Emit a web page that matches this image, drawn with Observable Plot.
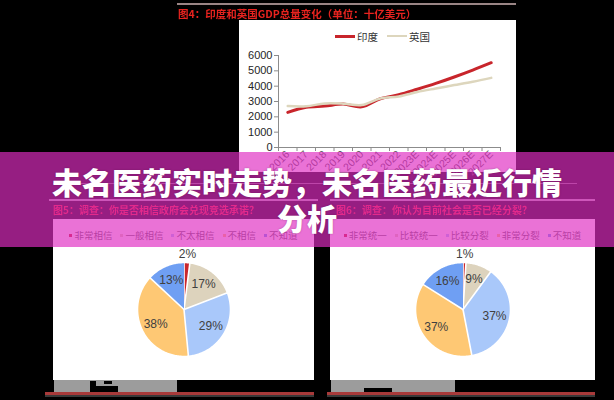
<!DOCTYPE html>
<html><head><meta charset="utf-8">
<script src="https://cdn.jsdelivr.net/npm/d3@7"></script>
<script src="https://cdn.jsdelivr.net/npm/@observablehq/plot@0.6"></script>
<style>
body{margin:0;background:#000;width:614px;height:400px;overflow:hidden;font-family:"Liberation Sans",Arial,"Noto Sans CJK SC",sans-serif;}
#root{position:relative;width:614px;height:400px;background:#000;overflow:hidden;}
.abs{position:absolute;}
.cap{position:absolute;color:#e8231f;font-weight:bold;font-size:10px;white-space:nowrap;font-family:"Noto Sans CJK SC",sans-serif;filter:blur(0.5px);}
.leg{position:absolute;display:flex;justify-content:center;align-items:center;font-size:9.5px;color:#666;font-family:"Noto Sans CJK SC",sans-serif;white-space:nowrap;}
.leg span.m{display:inline-block;width:3px;height:3px;margin-right:2px;}
.leg span.it{margin:0 4px;display:flex;align-items:center;}
</style></head><body><div id="root"></div>
<script>
// ---- data ----
const years = ["2016","2017","2018","2019","2020","2021","2022","2023E","2024E","2025E","2026E","2027E"];
const india = [2290, 2620, 2700, 2830, 2650, 3180, 3440, 3800, 4180, 4600, 5050, 5530];
const uk    = [2700, 2690, 2870, 2860, 2770, 3200, 3330, 3620, 3850, 4070, 4290, 4540];
const seriesNames = ["印度", "英国"];
const seriesColors = ["#c8252b", "#ddd6bd"];
const yTicks = [0, 1000, 2000, 3000, 4000, 5000, 6000];

const trustCats = ["非常相信", "一般相信", "不太相信", "不相信", "不知道"];
const trustVals = [2, 17, 29, 38, 13];
const unityCats = ["非常统一", "比较统一", "比较分裂", "非常分裂", "不知道"];
const unityVals = [1, 9, 37, 37, 16];
const sliceColors = ["#c9272d", "#ddd3bd", "#a9c8fa", "#fec874", "#6f9ff3"];

const chartTitle = "图4：印度和英国GDP总量变化（单位：十亿美元）";
const pieTitleL = "图5：调查：你是否相信政府会兑现竞选承诺？";
const pieTitleR = "图6：调查：你认为目前社会是否已经分裂？";
const headline1 = "未名医药实时走势，未名医药最近行情";
const headline2 = "分析";

// ---- helpers ----
const root = document.getElementById("root");
function box(x, y, w, h, bg, z) {
  const d = document.createElement("div");
  d.className = "abs";
  Object.assign(d.style, {left: x + "px", top: y + "px", width: w + "px", height: h + "px", background: bg, zIndex: z || 1});
  root.appendChild(d);
  return d;
}
function place(el, x, y, z) {
  const d = document.createElement("div");
  d.className = "abs";
  Object.assign(d.style, {left: x + "px", top: y + "px", zIndex: z || 2});
  d.appendChild(el);
  root.appendChild(d);
  return d;
}
function caption(text, x, y, size) {
  const d = document.createElement("div");
  d.className = "cap";
  d.textContent = text;
  d.style.left = x + "px"; d.style.top = y + "px"; d.style.zIndex = 2;
  if (size) d.style.fontSize = size + "px";
  root.appendChild(d);
}
function legend(cats, x, y, w) {
  const d = document.createElement("div");
  d.className = "leg";
  Object.assign(d.style, {left: x + "px", top: y + "px", width: w + "px", height: "12px", zIndex: 3});
  cats.forEach((c, i) => {
    const it = document.createElement("span"); it.className = "it";
    const m = document.createElement("span"); m.className = "m"; m.style.background = sliceColors[i];
    const t = document.createElement("span"); t.textContent = c;
    it.appendChild(m); it.appendChild(t); d.appendChild(it);
  });
  root.appendChild(d);
}

// ---- top section ----
box(177, 3, 339, 2, "#9a8585");
caption(chartTitle, 178, 6, 10.5);
box(239, 20, 277, 152, "#fff");

const lineData = years.flatMap((yr, i) => [
  {i, s: seriesNames[0], v: india[i]},
  {i, s: seriesNames[1], v: uk[i]}
]);

const lineChart = Plot.plot({
  width: 277, height: 162,
  marginLeft: 39, marginRight: 16, marginTop: 35, marginBottom: 35,
  x: {domain: [0, years.length]},
  y: {domain: [0, 6000]},
  style: {background: "transparent", overflow: "visible", fontFamily: "Liberation Sans, Arial, sans-serif"},
  marks: [
    Plot.ruleX([0], {stroke: "#8c8c8c"}),
    Plot.ruleY([0], {stroke: "#8c8c8c"}),
    Plot.axisY({ticks: yTicks, tickSize: 4, tickPadding: 2, fontSize: 11, color: "#262626", stroke: "#8c8c8c", label: null, tickFormat: d => String(d)}),
    Plot.axisX({ticks: d3.range(years.length + 1), tickSize: 4, tickFormat: () => "", label: null, stroke: "#8c8c8c"}),
    Plot.axisX({ticks: years.map((_, i) => i + 0.5), tickFormat: d => years[Math.floor(d)], tickSize: 0, tickRotate: -45, tickPadding: 5, fontSize: 10.5, color: "#595959", label: null}),
    Plot.line(lineData.filter(d => d.s === seriesNames[0]), {x: d => d.i + 0.5, y: "v", stroke: seriesColors[0], strokeWidth: 3, curve: "catmull-rom"}),
    Plot.line(lineData.filter(d => d.s === seriesNames[1]), {x: d => d.i + 0.5, y: "v", stroke: seriesColors[1], strokeWidth: 2.5, curve: "catmull-rom"})
  ]
});
place(lineChart, 239, 20, 2);

// line legend
const ll = document.createElement("div");
ll.className = "abs";
Object.assign(ll.style, {left: "335px", top: "29px", zIndex: 3, display: "flex", alignItems: "center", fontSize: "10.5px", color: "#333", fontFamily: "Noto Sans CJK SC, sans-serif", height: "14px"});
seriesNames.forEach((n, i) => {
  const sw = document.createElement("span");
  Object.assign(sw.style, {display: "inline-block", width: "20px", height: i === 0 ? "3px" : "2.5px", background: seriesColors[i], marginRight: "2px"});
  const t = document.createElement("span"); t.textContent = n; t.style.marginRight = "9px";
  ll.appendChild(sw); ll.appendChild(t);
});
root.appendChild(ll);

// ---- lower section ----
box(53, 183, 524, 1, "#777");
box(49, 199, 269, 1.5, "#aaa");
box(330, 199, 265, 1.5, "#aaa");
caption(pieTitleL, 53, 202);
caption(pieTitleR, 336, 202);

function piePolys(vals) {
  const total = d3.sum(vals);
  let acc = 0;
  const polys = [], labels = [];
  vals.forEach((v, k) => {
    const a0 = acc / total * 2 * Math.PI; acc += v;
    const a1 = acc / total * 2 * Math.PI;
    const n = Math.max(2, Math.ceil((a1 - a0) / 0.02));
    polys.push({k, x: 0, y: 0});
    for (let j = 0; j <= n; j++) {
      const a = a0 + (a1 - a0) * j / n;
      polys.push({k, x: Math.sin(a), y: Math.cos(a)});
    }
    const am = (a0 + a1) / 2;
    const rl = v / total < 0.05 ? 1.17 : 0.68;
    labels.push({k, x: rl * Math.sin(am), y: rl * Math.cos(am), t: v + "%"});
  });
  return {polys, labels};
}

function pieChart(vals, w, h, ml, mr, mt, mb) {
  const {polys, labels} = piePolys(vals);
  return Plot.plot({
    width: w, height: h, marginLeft: ml, marginRight: mr, marginTop: mt, marginBottom: mb,
    x: {domain: [-1, 1], axis: null},
    y: {domain: [-1, 1], axis: null},
    style: {background: "transparent", overflow: "visible", fontFamily: "Liberation Sans, Arial, sans-serif"},
    marks: [
      Plot.line(polys, {x: "x", y: "y", z: "k", fill: d => sliceColors[d.k], stroke: "#fff", strokeWidth: 1.6, curve: "linear"}),
      Plot.text(labels, {x: "x", y: "y", text: "t", fontSize: 12, fill: "#404040"})
    ]
  });
}

box(53, 219, 261, 161, "#fff");
box(330, 219, 265, 161, "#fff");
place(pieChart(trustVals, 261, 161, 84, 84, 43, 24), 53, 219, 2);
place(pieChart(unityVals, 265, 161, 85, 85, 43, 24), 330, 219, 2);
legend(trustCats, 53, 229, 261);
legend(unityCats, 330, 229, 265);

// bottom source blocks & borders
box(54, 380, 123, 12, "#9c9c9c");
box(90, 381, 6, 6, "#000", 2);
box(90, 386, 28, 6, "#000", 2);
box(104, 381, 8, 3, "#000", 2);
box(331, 380, 124, 12, "#9c9c9c");
box(364, 388, 28, 4, "#000", 2);
box(45, 392, 269, 2.5, "#a83a3a");
box(327, 392, 268, 2.5, "#a83a3a");
box(45, 394.5, 269, 2.5, "#3a3a3a");
box(327, 394.5, 268, 2.5, "#3a3a3a");

// ---- banner overlay ----
box(0, 152, 614, 95, "rgba(224,45,194,0.67)", 10);
const h = document.createElement("div");
h.className = "abs";
Object.assign(h.style, {left: "0px", top: "163px", width: "614px", textAlign: "center", color: "#fff", fontSize: "30px", fontWeight: "900", lineHeight: "36px", fontFamily: "Noto Sans CJK SC, sans-serif", zIndex: 11, textShadow: "0 0 2px rgba(60,0,50,0.35)"});
h.innerHTML = headline1 + "<br>" + headline2;
root.appendChild(h);
</script>
</body></html>
